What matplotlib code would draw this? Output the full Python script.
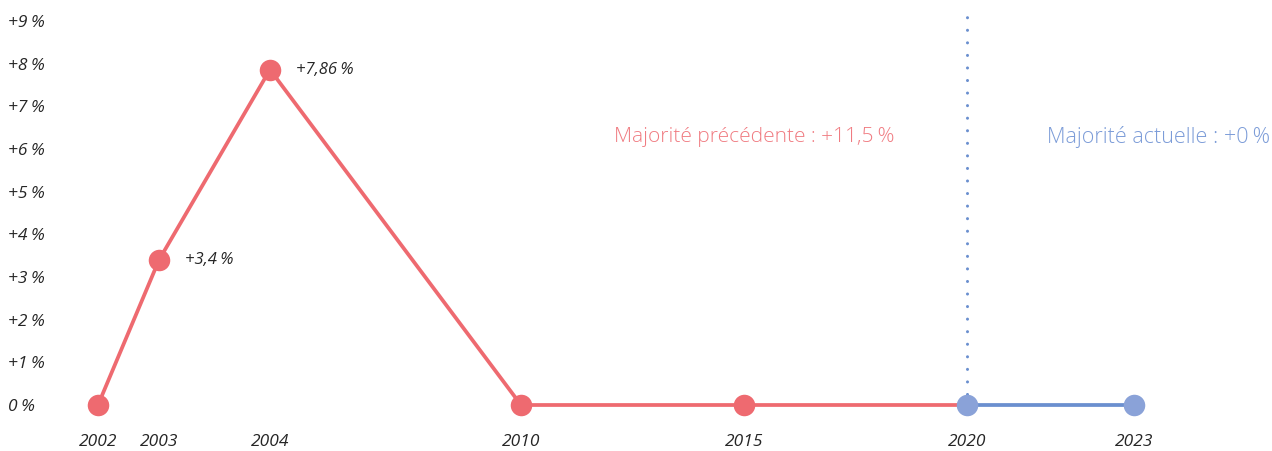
import numpy as np
import matplotlib
matplotlib.use("Agg")
import matplotlib.pyplot as plt

# ---- data ----
years = [2002, 2003, 2004, 2010, 2015, 2020, 2023]
values = [0.0, 3.4, 7.86, 0.0, 0.0, 0.0, 0.0]
year_labels = ["2002", "2003", "2004", "2010", "2015", "2020", "2023"]
split_year = 2020  # change of majority
point_labels = {2003: "+3,4\u202f%", 2004: "+7,86\u202f%"}
y_ticks = list(range(0, 10))
y_tick_labels = ["0\u202f%"] + [f"+{i}\u202f%" for i in range(1, 10)]
prev_label = "Majorité précédente : +11,5\u202f%"
curr_label = "Majorité actuelle : +0\u202f%"

RED = "#ee6a70"
RED_TEXT = "#f07b81"
BLUE_LINE = "#6a8fcf"
BLUE_MARK = "#8aa2d8"
BLUE_TEXT = "#7c9cd8"
TXT = "#262626"

fam = ["Open Sans", "DejaVu Sans"]

# piecewise scale for the (non-uniform) year axis
slot = [0.0, 0.0589, 0.166, 0.4083, 0.6236, 0.8388, 1.0]
def fwd(x):
    return np.interp(x, years, slot)
def inv(x):
    return np.interp(x, slot, years)

fig = plt.figure(figsize=(12.72, 4.51), dpi=100)
W, H = 1272, 451
ax = fig.add_axes([98 / W, 46 / H, (1134 - 98) / W, 384 / H])
ax.set_xscale("function", functions=(fwd, inv))
ax.set_xlim(2002, 2023)
ax.set_ylim(0, 9)
for s in ax.spines.values():
    s.set_visible(False)

yrs = np.array(years)
vals = np.array(values)
prev = yrs <= split_year
curr = yrs >= split_year

# dotted separator
ax.plot([split_year, split_year], [0.25, 9.15], color=BLUE_LINE, lw=2.2,
        linestyle=(0, (0.01, 4.1)), dash_capstyle="round", clip_on=False, zorder=1)

ax.plot(yrs[prev], vals[prev], color=RED, lw=2.7, clip_on=False, zorder=2)
ax.plot(yrs[curr], vals[curr], color=BLUE_LINE, lw=2.7, clip_on=False, zorder=2)
ax.plot(yrs[yrs < split_year], vals[yrs < split_year], "o", color=RED, ms=15.5,
        mec="none", clip_on=False, zorder=3)
ax.plot(yrs[curr], vals[curr], "o", color=BLUE_MARK, ms=15.5, mec="none",
        clip_on=False, zorder=3)

for yr, lab in point_labels.items():
    v = values[years.index(yr)]
    ax.annotate(lab, (yr, v), xytext=(19, 0), textcoords="offset points",
                ha="left", va="center", fontsize=12, style="italic",
                color=TXT, family=fam)

ax.set_xticks(years)
ax.set_xticklabels(year_labels, fontsize=12.5, style="italic", color=TXT, family=fam)
ax.set_yticks(y_ticks)
ax.set_yticklabels(y_tick_labels, fontsize=12.5, style="italic", color=TXT,
                   family=fam, ha="left")
ax.tick_params(axis="x", length=0, pad=21)
ax.tick_params(axis="y", length=0, pad=65)

ax.text(754 / W, 1 - 137 / H, prev_label, transform=fig.transFigure, ha="center",
        va="center", fontsize=15, color=RED_TEXT, family=fam, fontweight="light")
ax.text(1270 / W, 1 - 137 / H, curr_label, transform=fig.transFigure, ha="right",
        va="center", fontsize=15.5, color=BLUE_TEXT, family=fam, fontweight="light")

fig.savefig("out.png", dpi=100)
